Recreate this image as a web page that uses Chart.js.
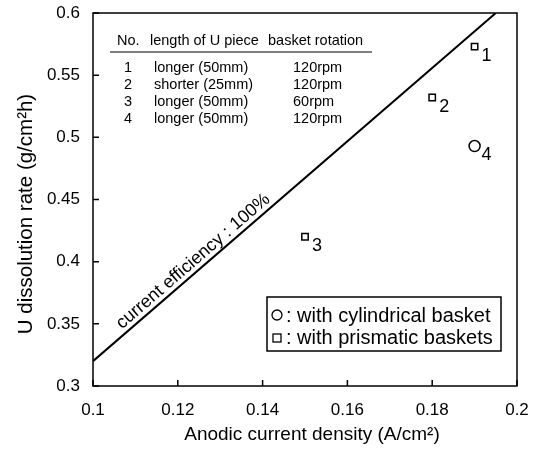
<!DOCTYPE html>
<html>
<head>
<meta charset="utf-8">
<script src="https://cdn.jsdelivr.net/npm/chart.js@4.4.0/dist/chart.umd.min.js"></script>
<style>
  html, body { margin: 0; padding: 0; background: #fff; }
  #wrap { width: 534px; height: 461px; }
</style>
</head>
<body>
<div id="wrap"><canvas id="c"></canvas></div>
<script>
// data
const runNo = ["1", "2", "3", "4"];
const currentDensity = [0.19, 0.18, 0.15, 0.19];
const dissolutionRate = [0.573, 0.532, 0.42, 0.493];
const basketShape = ["rect", "rect", "rect", "circle"];

// 100% current efficiency line
const effLineX = [0.1, 0.195];
const effLineY = [0.32, 0.6];

const xTicks = [0.1, 0.12, 0.14, 0.16, 0.18, 0.2];
const yTicks = [0.3, 0.35, 0.4, 0.45, 0.5, 0.55, 0.6];

const tableHead = ["No.", "length of U piece", "basket rotation"];
const pieceLength = ["longer (50mm)", "shorter (25mm)", "longer (50mm)", "longer (50mm)"];
const rotationRpm = ["120rpm", "120rpm", "60rpm", "120rpm"];
const legendText = [": with cylindrical basket", ": with prismatic baskets"];

const xTitle = "Anodic current density (A/cm\u00B2)";
const yTitle = "U dissolution rate (g/cm\u00B2h)";
const lineLabel = "current efficiency : 100%";

const FONT = "'Liberation Sans', Arial, sans-serif";

function fmt(v) {
  return String(+v.toFixed(2));
}

function noPad(s) {
  s.paddingTop = 0;
  s.paddingBottom = 0;
  s.paddingLeft = 0;
  s.paddingRight = 0;
}

const decor = {
  id: "decor",
  afterDraw(chart) {
    const { ctx, chartArea: a } = chart;
    const xs = chart.scales.x, ys = chart.scales.y;
    ctx.save();
    ctx.strokeStyle = "#000";
    ctx.fillStyle = "#000";

    // frame
    ctx.lineWidth = 1.5;
    ctx.strokeRect(a.left, a.top, a.right - a.left, a.bottom - a.top);

    // inward ticks on left and bottom
    ctx.beginPath();
    xTicks.forEach(v => {
      const px = xs.getPixelForValue(v);
      ctx.moveTo(px, a.bottom);
      ctx.lineTo(px, a.bottom - 6);
    });
    yTicks.forEach(v => {
      const py = ys.getPixelForValue(v);
      ctx.moveTo(a.left, py);
      ctx.lineTo(a.left + 6, py);
    });
    ctx.stroke();

    // run numbers next to points
    ctx.font = "18px " + FONT;
    ctx.textAlign = "center";
    ctx.textBaseline = "middle";
    runNo.forEach((n, i) => {
      const px = xs.getPixelForValue(currentDensity[i]);
      const py = ys.getPixelForValue(dissolutionRate[i]);
      ctx.fillText(n, px + 12, py + 9);
    });

    // table
    ctx.font = "14.5px " + FONT;
    ctx.textBaseline = "alphabetic";
    ctx.textAlign = "left";
    ctx.fillText(tableHead[0], 117, 45);
    ctx.fillText(tableHead[1], 150, 45);
    ctx.fillText(tableHead[2], 268, 45);
    ctx.lineWidth = 1.2;
    ctx.beginPath();
    ctx.moveTo(110, 52);
    ctx.lineTo(372, 52);
    ctx.stroke();
    runNo.forEach((n, i) => {
      const y = 72 + i * 17;
      ctx.textAlign = "center";
      ctx.fillText(n, 128, y);
      ctx.textAlign = "left";
      ctx.fillText(pieceLength[i], 154, y);
      ctx.fillText(rotationRpm[i], 293, y);
    });

    // legend box
    ctx.lineWidth = 1.5;
    ctx.strokeRect(267, 297, 234, 54);
    ctx.lineWidth = 1.3;
    ctx.beginPath();
    ctx.arc(277, 315, 5, 0, Math.PI * 2);
    ctx.stroke();
    ctx.strokeRect(273, 334, 8, 8);
    ctx.font = "20px " + FONT;
    ctx.textAlign = "left";
    ctx.fillText(legendText[0], 286, 322);
    ctx.fillText(legendText[1], 286, 344);

    // label along the efficiency line
    const p0 = { x: xs.getPixelForValue(effLineX[0]), y: ys.getPixelForValue(effLineY[0]) };
    const p1 = { x: xs.getPixelForValue(effLineX[1]), y: ys.getPixelForValue(effLineY[1]) };
    const ang = Math.atan2(p1.y - p0.y, p1.x - p0.x);
    const t = 0.265;
    const cx = p0.x + (p1.x - p0.x) * t, cy = p0.y + (p1.y - p0.y) * t;
    ctx.save();
    ctx.translate(cx, cy);
    ctx.rotate(ang);
    ctx.font = "18px " + FONT;
    ctx.textAlign = "center";
    ctx.textBaseline = "alphabetic";
    ctx.fillText(lineLabel, 0, -5);
    ctx.restore();

    // axis titles
    ctx.font = "19px " + FONT;
    ctx.textAlign = "center";
    ctx.fillText(xTitle, 312, 440);
    ctx.save();
    ctx.translate(32, 214);
    ctx.rotate(-Math.PI / 2);
    ctx.font = "20.5px " + FONT;
    ctx.fillText(yTitle, 0, 0);
    ctx.restore();

    ctx.restore();
  }
};

new Chart(document.getElementById("c"), {
  type: "scatter",
  data: {
    datasets: [
      {
        label: "efficiency",
        data: effLineX.map((x, i) => ({ x, y: effLineY[i] })),
        showLine: true,
        borderColor: "#000",
        borderWidth: 2,
        pointRadius: 0
      },
      {
        label: "runs",
        data: currentDensity.map((x, i) => ({ x, y: dissolutionRate[i] })),
        pointStyle: basketShape,
        pointRadius: basketShape.map(s => (s === "circle" ? 5.5 : 4.5)),
        borderColor: "#000",
        backgroundColor: "#fff",
        borderWidth: 1.5
      }
    ]
  },
  options: {
    responsive: true,
    maintainAspectRatio: false,
    animation: false,
    layout: { padding: { top: 13, right: 17, left: 0, bottom: 0 } },
    plugins: { legend: { display: false }, tooltip: { enabled: false } },
    scales: {
      x: {
        min: 0.1,
        max: 0.2,
        afterBuildTicks: s => { s.ticks = xTicks.map(v => ({ value: v })); },
        afterFit: s => { s.height = 75; noPad(s); },
        grid: { display: false, drawTicks: false },
        border: { display: false },
        ticks: {
          color: "#000",
          font: { size: 17, family: FONT },
          padding: 14,
          maxRotation: 0,
          callback: v => fmt(v)
        }
      },
      y: {
        min: 0.3,
        max: 0.6,
        afterBuildTicks: s => { s.ticks = yTicks.map(v => ({ value: v })); },
        afterFit: s => { s.width = 93; noPad(s); },
        grid: { display: false, drawTicks: false },
        border: { display: false },
        ticks: {
          color: "#000",
          font: { size: 17, family: FONT },
          padding: 13,
          callback: v => fmt(v)
        }
      }
    }
  },
  plugins: [decor]
});
</script>
</body>
</html>
